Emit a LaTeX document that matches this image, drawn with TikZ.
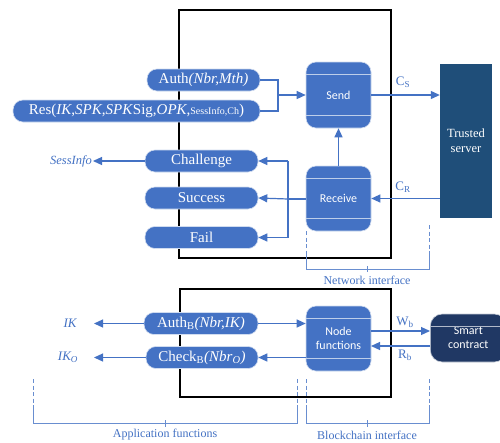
\documentclass[tikz,border=0pt]{standalone}
\usepackage{fontspec}
\setmainfont{Liberation Serif}
\newfontfamily\calib{Carlito}
\usetikzlibrary{arrows.meta,calc}
\definecolor{pblue}{HTML}{4472C4}
\definecolor{tsblue}{HTML}{1F4E79}
\definecolor{scblue}{HTML}{203864}
\definecolor{lblue}{HTML}{4A72C0}
\begin{document}
\begin{tikzpicture}[x=1pt,y=-1pt,
  pill/.style={draw=white!75!pblue,line width=0.6pt,fill=pblue,rounded corners=10pt,minimum height=22pt,inner sep=0pt,text=white,font=\fontsize{15}{15}\selectfont},
  proc/.style={draw=white!75!pblue,line width=0.6pt,fill=pblue,rounded corners=10pt,inner sep=0pt,text=white,font=\calib\fontsize{12}{14}\selectfont,align=center},
  conn/.style={draw=pblue,line width=1.2pt,-{Triangle[length=9pt,width=8pt]}},
  line/.style={draw=pblue,line width=1.2pt},
  dsh/.style={draw=pblue!80,line width=1pt,dash pattern=on 4pt off 2.5pt},
  brk/.style={draw=pblue!80,line width=1pt},
  lab/.style={text=pblue,font=\fontsize{12}{12}\selectfont,inner sep=1pt},
  box/.style={draw=black,line width=1.2pt}
]
\clip (0,0) rectangle (500,442);
\fill[white] (0,0) rectangle (500,442);
% frames
\draw[box] (179,10) rectangle (391,258);
\draw[box] (180,289) rectangle (391,397);
% top processes
\node[proc,minimum width=65pt,minimum height=66pt] (send) at (338.5,95) {Send};
\node[proc,minimum width=65pt,minimum height=65pt] (rec) at (338.5,198.5) {Receive};
\foreach \n in {send,rec}{
  \draw[white!65!pblue,line width=0.6pt] ($(\n.north west)+(0,13)$) -- ($(\n.north east)+(0,13)$);
  \draw[white!65!pblue,line width=0.6pt] ($(\n.south west)+(0,-13)$) -- ($(\n.south east)+(0,-13)$);
}
\node[fill=tsblue,minimum width=52pt,minimum height=154pt,inner sep=0pt,text=white,align=center,font=\fontsize{12.5}{15}\selectfont] (ts) at (466,141) {Trusted\\server};
% left pills
\node[pill,minimum width=113pt] (auth) at (203.5,80) {Auth\textit{(Nbr,Mth)}};
\node[pill,minimum width=247pt] (res) at (136.5,111) {Res(\textit{IK},\textit{SPK},\textit{SPK}Sig,\textit{OPK},{\fontsize{10}{10}\selectfont SessInfo,Ch})};
\node[pill,minimum width=113pt] (chal) at (201.5,161) {Challenge};
\node[pill,minimum width=113pt] (succ) at (201.5,198) {Success};
\node[pill,minimum width=113pt] (fail) at (201.5,237.5) {Fail};
\node[lab,font=\itshape\fontsize{12.5}{12.5}\selectfont,anchor=east] (sess) at (93,161) {SessInfo};
% top connectors
\coordinate (j1) at (278,80);
\coordinate (j2) at (278,111);
\coordinate (jm) at (278,95);
\draw[line] (auth.east) -- (j1) -- (j2) -- (res.east);
\draw[conn] (jm) -- (send.west);
\draw[conn] (chal.west) -- (sess.east);
\coordinate (b1) at (288,161);
\coordinate (b2) at (288,199);
\coordinate (b3) at (288,237.5);
\draw[line] (rec.west |- b2) -- (b2);
\draw[line] (b1) -- (b3);
\draw[conn] (b1) -- (chal.east);
\draw[conn] (b2) -- (succ.east);
\draw[conn] (b3) -- (fail.east);
\draw[conn] (rec.north) -- (send.south);
\draw[conn] (send.east) -- (send.east -| ts.west);
\draw[conn] (rec.east -| ts.west) -- (rec.east);
\node[lab,font=\fontsize{13}{13}\selectfont] (cs) at (403,82) {C\textsubscript{S}};
\node[lab,font=\fontsize{13}{13}\selectfont] (cr) at (403,187) {C\textsubscript{R}};
% network interface bracket
\draw[dsh] (306,231) -- (306,253);
\draw[dsh] (429,225) -- (429,253);
\draw[brk] (306,253) -- (306,269) -- (429,269) -- (429,253);
\draw[brk] (367,266) -- (367,272);
\node[lab] (ni) at (367,280) {Network interface};
% bottom
\node[pill,minimum width=114pt] (authb) at (201,323.5) {Auth\textsubscript{B}\textit{(Nbr,IK)}};
\node[pill,minimum width=112pt] (chkb) at (202,357.5) {Check\textsubscript{B}\textit{(Nbr\textsubscript{O})}};
\node[proc,minimum width=65pt,minimum height=65pt] (nf) at (338.5,338.5) {Node\\functions};
\draw[white!65!pblue,line width=0.6pt] ($(nf.north west)+(0,13)$) -- ($(nf.north east)+(0,13)$);
\draw[white!65!pblue,line width=0.6pt] ($(nf.south west)+(0,-13)$) -- ($(nf.south east)+(0,-13)$);
\node[draw=white!75!scblue,line width=0.6pt,fill=scblue,rounded corners=12pt,minimum width=76pt,minimum height=48pt,inner sep=0pt,text=white,align=center,font=\calib\fontsize{12}{14}\selectfont,anchor=west] (sc) at (430,338) {Smart\\contract};
\draw[white!65!scblue,line width=0.6pt] ($(sc.north west)+(0,13)$) -- ($(sc.north east)+(0,13)$);
\node[lab,font=\itshape\fontsize{13}{13}\selectfont] (ik) at (70,323) {IK};
\node[lab,font=\itshape\fontsize{13}{13}\selectfont] (iko) at (68,357.5) {IK\textsubscript{O}};
\coordinate (ike) at (94,323.5);
\coordinate (ikoe) at (94,357.5);
\draw[conn] (authb.west) -- (ike);
\draw[conn] (chkb.west) -- (ikoe);
\draw[conn] (authb.east) -- (authb.east -| nf.west);
\draw[conn] (chkb.east -| nf.west) -- (chkb.east);
\coordinate (w1) at (371,331);
\coordinate (r1) at (371,346);
\draw[conn] (w1) -- (w1 -| sc.west);
\draw[conn] (r1 -| sc.west) -- (r1);
\node[lab,font=\fontsize{13}{13}\selectfont] (wb) at (405,322) {W\textsubscript{b}};
\node[lab,font=\fontsize{13}{13}\selectfont] (rb) at (405,355) {R\textsubscript{b}};
% bottom brackets
\foreach \x in {33,297,306,429} \draw[dsh] (\x,379) -- (\x,403);
\draw[brk] (33,405) -- (33,423) -- (297,423) -- (297,405);
\draw[brk] (306,405) -- (306,423) -- (429,423) -- (429,405);
\draw[brk] (165,420) -- (165,427);
\draw[brk] (367,420) -- (367,427);
\node[lab] (af) at (165,435) {Application functions};
\node[lab] (bi) at (367,435) {Blockchain interface};
\end{tikzpicture}
\end{document}
